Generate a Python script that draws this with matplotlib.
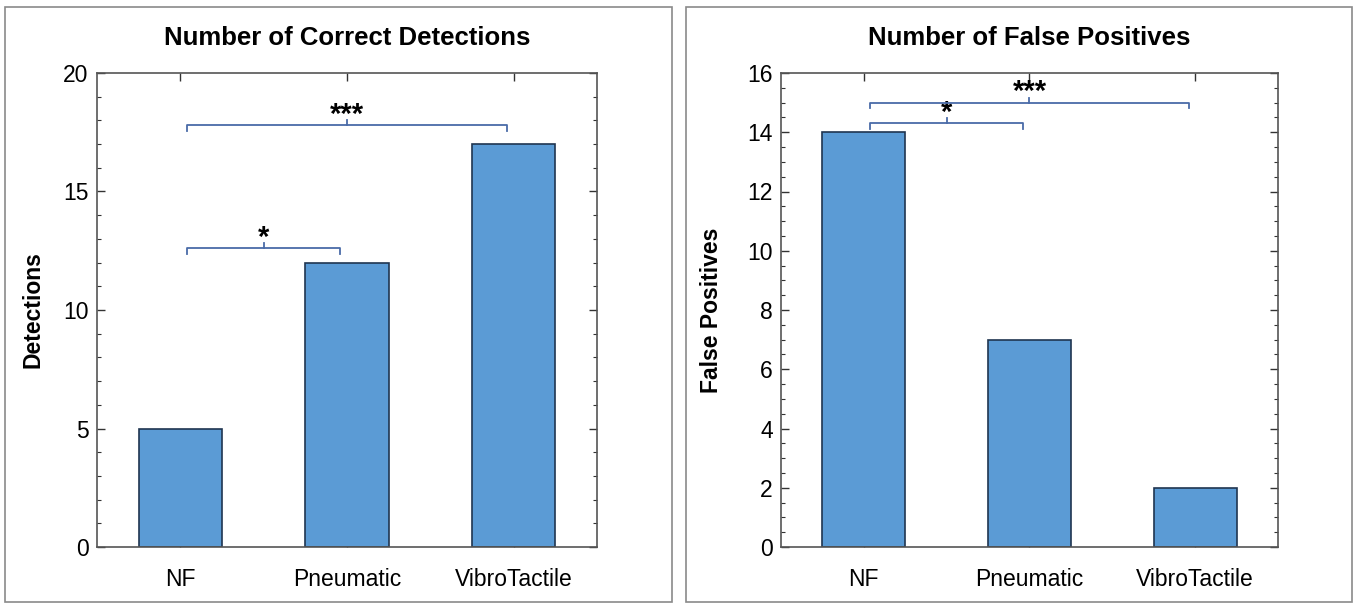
import matplotlib
matplotlib.use("Agg")
import matplotlib.pyplot as plt
from matplotlib.patches import Rectangle
from matplotlib.ticker import MultipleLocator

categories = ["NF", "Pneumatic", "VibroTactile"]
detections = [5, 12, 17]
false_positives = [14, 7, 2]

det_brackets = [(0, 1, 12.6, "*"), (0, 2, 17.8, "***")]
fp_brackets = [(0, 1, 14.3, "*"), (0, 2, 15.0, "***")]

W, H = 1355, 606
fig = plt.figure(figsize=(W / 100, H / 100), dpi=100)
FONT = ["Liberation Sans Narrow", "Liberation Sans", "DejaVu Sans"]
plt.rcParams["font.family"] = FONT

bar_color = "#5B9BD5"
edge_color = "#1F3550"
br_color = "#4A6BA8"

def px(x0, y0, x1, y1):
    return [x0 / W, 1 - y1 / H, (x1 - x0) / W, (y1 - y0) / H]

# panel frames
for (x0, x1) in [(5, 672), (686, 1352)]:
    fig.patches.append(Rectangle((x0 / W, 1 - 602 / H), (x1 - x0) / W, (602 - 7) / H,
                                 transform=fig.transFigure, fill=False,
                                 edgecolor="#8a8a8a", lw=1.2))

def panel(rect, vals, title, ylabel, ymax, major, minor, brackets, ylabel_x, ylabel_size):
    ax = fig.add_axes(rect)
    x = list(range(len(categories)))
    ax.bar(x, vals, width=0.5, color=bar_color, edgecolor=edge_color, linewidth=1.2, zorder=2)
    ax.set_xlim(-0.5, 2.5)
    ax.set_ylim(0, ymax)
    ax.set_xticks(x)
    ax.set_xticklabels(categories)
    ax.yaxis.set_major_locator(MultipleLocator(major))
    ax.yaxis.set_minor_locator(MultipleLocator(minor))
    ax.tick_params(axis="both", which="both", direction="in", top=True, right=True,
                   color="#333333")
    ax.tick_params(axis="y", which="major", length=6, width=1, labelsize=16.5, pad=6)
    ax.tick_params(axis="y", which="minor", length=3, width=0.8)
    ax.tick_params(axis="x", which="major", length=6, width=1, labelsize=16.5, pad=15)
    for s in ax.spines.values():
        s.set_color("#555555")
        s.set_linewidth(1.2)
    ax.set_title(title, fontsize=18.5, fontweight="bold", pad=20)
    fig.text(ylabel_x / W, (1 - 310 / H), ylabel, rotation=90, fontsize=ylabel_size,
             fontweight="bold", ha="center", va="center", family=["Liberation Sans", "DejaVu Sans"])
    tip = ymax * 0.012
    for (a, b, y, label) in brackets:
        a2 = a + 0.04
        ax.plot([a2, a2, b - 0.04, b - 0.04], [y - tip, y, y, y - tip], color=br_color, lw=1.3,
                zorder=3, clip_on=False)
        mid = (a2 + b - 0.04) / 2
        ax.plot([mid, mid], [y, y + tip * 0.9], color=br_color, lw=1.3, zorder=3)
        ax.text(mid, y - tip * 0.6, label, ha="center", va="bottom", fontsize=21,
                fontweight="bold", family=["Liberation Sans", "DejaVu Sans"])
    return ax

panel(px(97, 73, 597, 547), detections, "Number of Correct Detections", "Detections",
      20, 5, 1, det_brackets, 33, 16.5)
panel(px(781, 73, 1278, 547), false_positives, "Number of False Positives", "False Positives",
      16, 2, 0.5, fp_brackets, 712, 16.5)

fig.savefig("out.png", dpi=100)
